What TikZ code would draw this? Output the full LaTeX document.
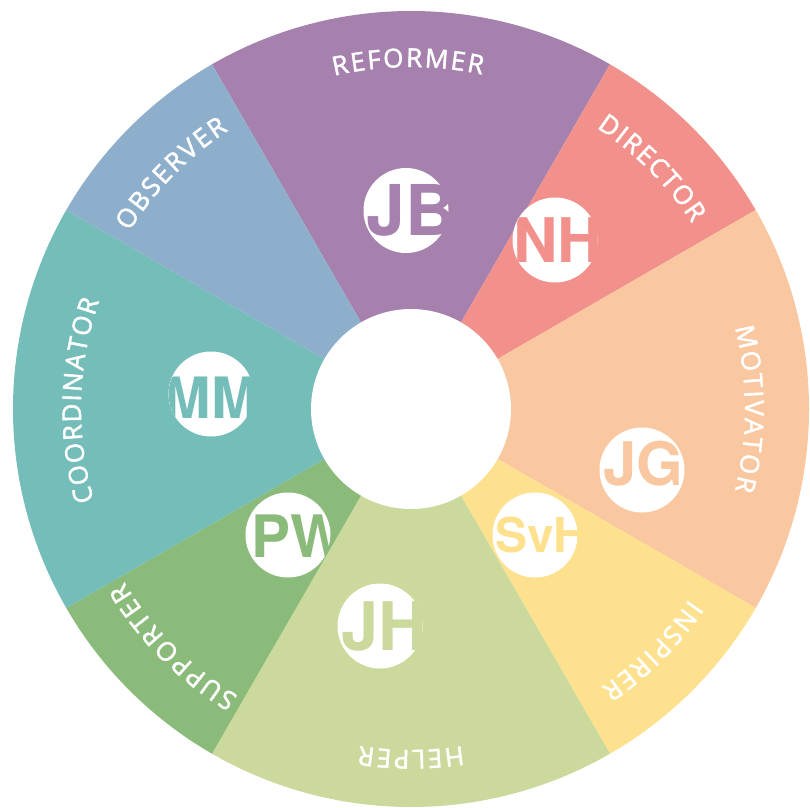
\documentclass[tikz,border=0pt]{standalone}
\usepackage{fontspec}
\newfontfamily\labelfont[FakeBold=1.8]{Open Sans}
\newfontfamily\inifont{TeX Gyre Heros}
\newcommand\lblfont{\labelfont\fontsize{26}{30}\selectfont}
\newcommand\inisize[1]{\inifont\bfseries\fontsize{#1}{#1}\selectfont}
\definecolor{cRef}{HTML}{A681AE}
\definecolor{cDir}{HTML}{F2918C}
\definecolor{cMot}{HTML}{F9C8A0}
\definecolor{cIns}{HTML}{FEE18E}
\definecolor{cHel}{HTML}{CCD99D}
\definecolor{cSup}{HTML}{8BBB7A}
\definecolor{cCoo}{HTML}{74BDB8}
\definecolor{cObs}{HTML}{8EAFCC}
\tikzset{
  badge/.style={circle, fill=white, minimum size=85pt, inner sep=0pt},
  initials/.style={anchor=base west, inner sep=0pt},
  lbl/.style={inner sep=0pt, anchor=base, text=white, font=\lblfont},
}
% advance widths of Open Sans capitals, in em
\def\lwA{0.633}\def\lwB{0.648}\def\lwC{0.631}\def\lwD{0.729}\def\lwE{0.556}
\def\lwF{0.516}\def\lwH{0.741}\def\lwI{0.295}\def\lwL{0.519}\def\lwM{0.903}
\def\lwN{0.780}\def\lwO{0.781}\def\lwP{0.604}\def\lwR{0.634}\def\lwS{0.549}
\def\lwT{0.554}\def\lwU{0.732}\def\lwV{0.600}
\def\lblsize{26}
\newcommand\sector[3]{% from, to, colour
  \fill[#3] (0,0) -- ({#1}:398pt) arc[start angle=#1, end angle=#2, radius=398pt] -- cycle;}
\newcommand\ringlabel[5]{% id, mid angle, radius (pt number), tracking (pt number), letters
  \gdef\lbltot{0}%
  \foreach \ch in {#5}{\edef\chw{\csname lw\ch\endcsname}\pgfmathsetmacro\lbltmp{\lbltot+\chw*\lblsize+#4}\xdef\lbltot{\lbltmp}}%
  \pgfmathsetmacro\lblstart{#2+(\lbltot-#4)/2/#3*180/pi}%
  \gdef\lblcum{0}%
  \foreach \ch [count=\i] in {#5}{\edef\chw{\csname lw\ch\endcsname}%
    \pgfmathsetmacro\ang{\lblstart-(\lblcum+\chw*\lblsize/2)/#3*180/pi}%
    \node[lbl, rotate=\ang-90] (#1\i) at (\ang:#3pt) {\ch};
    \pgfmathsetmacro\lbltmp{\lblcum+\chw*\lblsize+#4}\xdef\lblcum{\lbltmp}}%
}
\newcommand\badgeinit[7]{% name, x, y, colour, size, left, baseline
  \node[badge] (b#1) at (#2,#3) {};
  \begin{scope}
    \clip (b#1.center) circle[radius=42.5pt];
    \node[initials, text=#4, font=\inisize{#5}] (t#1) at (#6,#7) {#1};
  \end{scope}}
\begin{document}
\begin{tikzpicture}
\useasboundingbox (-411pt,-398pt) rectangle (399pt,409pt);
\sector{60}{120}{cRef}
\sector{30}{60}{cDir}
\sector{-30}{30}{cMot}
\sector{-60}{-30}{cIns}
\sector{-120}{-60}{cHel}
\sector{-150}{-120}{cSup}
\sector{150}{210}{cCoo}
\sector{120}{150}{cObs}
\node[circle, fill=white, minimum size=200pt, inner sep=0pt] (hub) at (0,0) {};
\ringlabel{ref}{90.5}{342}{2}{R,E,F,O,R,M,E,R}
\ringlabel{dir}{45}{337}{1.6}{D,I,R,E,C,T,O,R}
\ringlabel{mot}{0}{334}{2}{M,O,T,I,V,A,T,O,R}
\ringlabel{ins}{-45}{337}{1.8}{I,N,S,P,I,R,E,R}
\ringlabel{hel}{-90}{341}{2}{H,E,L,P,E,R}
\ringlabel{sup}{-135}{335}{2}{S,U,P,P,O,R,T,E,R}
\ringlabel{coo}{178.5}{330}{1.5}{C,O,O,R,D,I,N,A,T,O,R}
\ringlabel{obs}{135.5}{333}{2}{O,B,S,E,R,V,E,R}
\badgeinit{JB}{-5pt}{198.5pt}{cRef}{70}{-45pt}{174pt}
\badgeinit{NH}{144pt}{169pt}{cDir}{61.5}{102pt}{147pt}
\badgeinit{MM}{-200pt}{15pt}{cCoo}{57}{-247.5pt}{-9pt}
\badgeinit{PW}{-123pt}{-126pt}{cSup}{58.5}{-160pt}{-148pt}
\badgeinit{SvH}{124pt}{-126pt}{cIns}{48}{84pt}{-143pt}
\badgeinit{JH}{-31pt}{-217pt}{cHel}{67}{-70pt}{-241pt}
\badgeinit{JG}{231pt}{-61pt}{cMot}{60}{192pt}{-76pt}
\end{tikzpicture}
\end{document}
